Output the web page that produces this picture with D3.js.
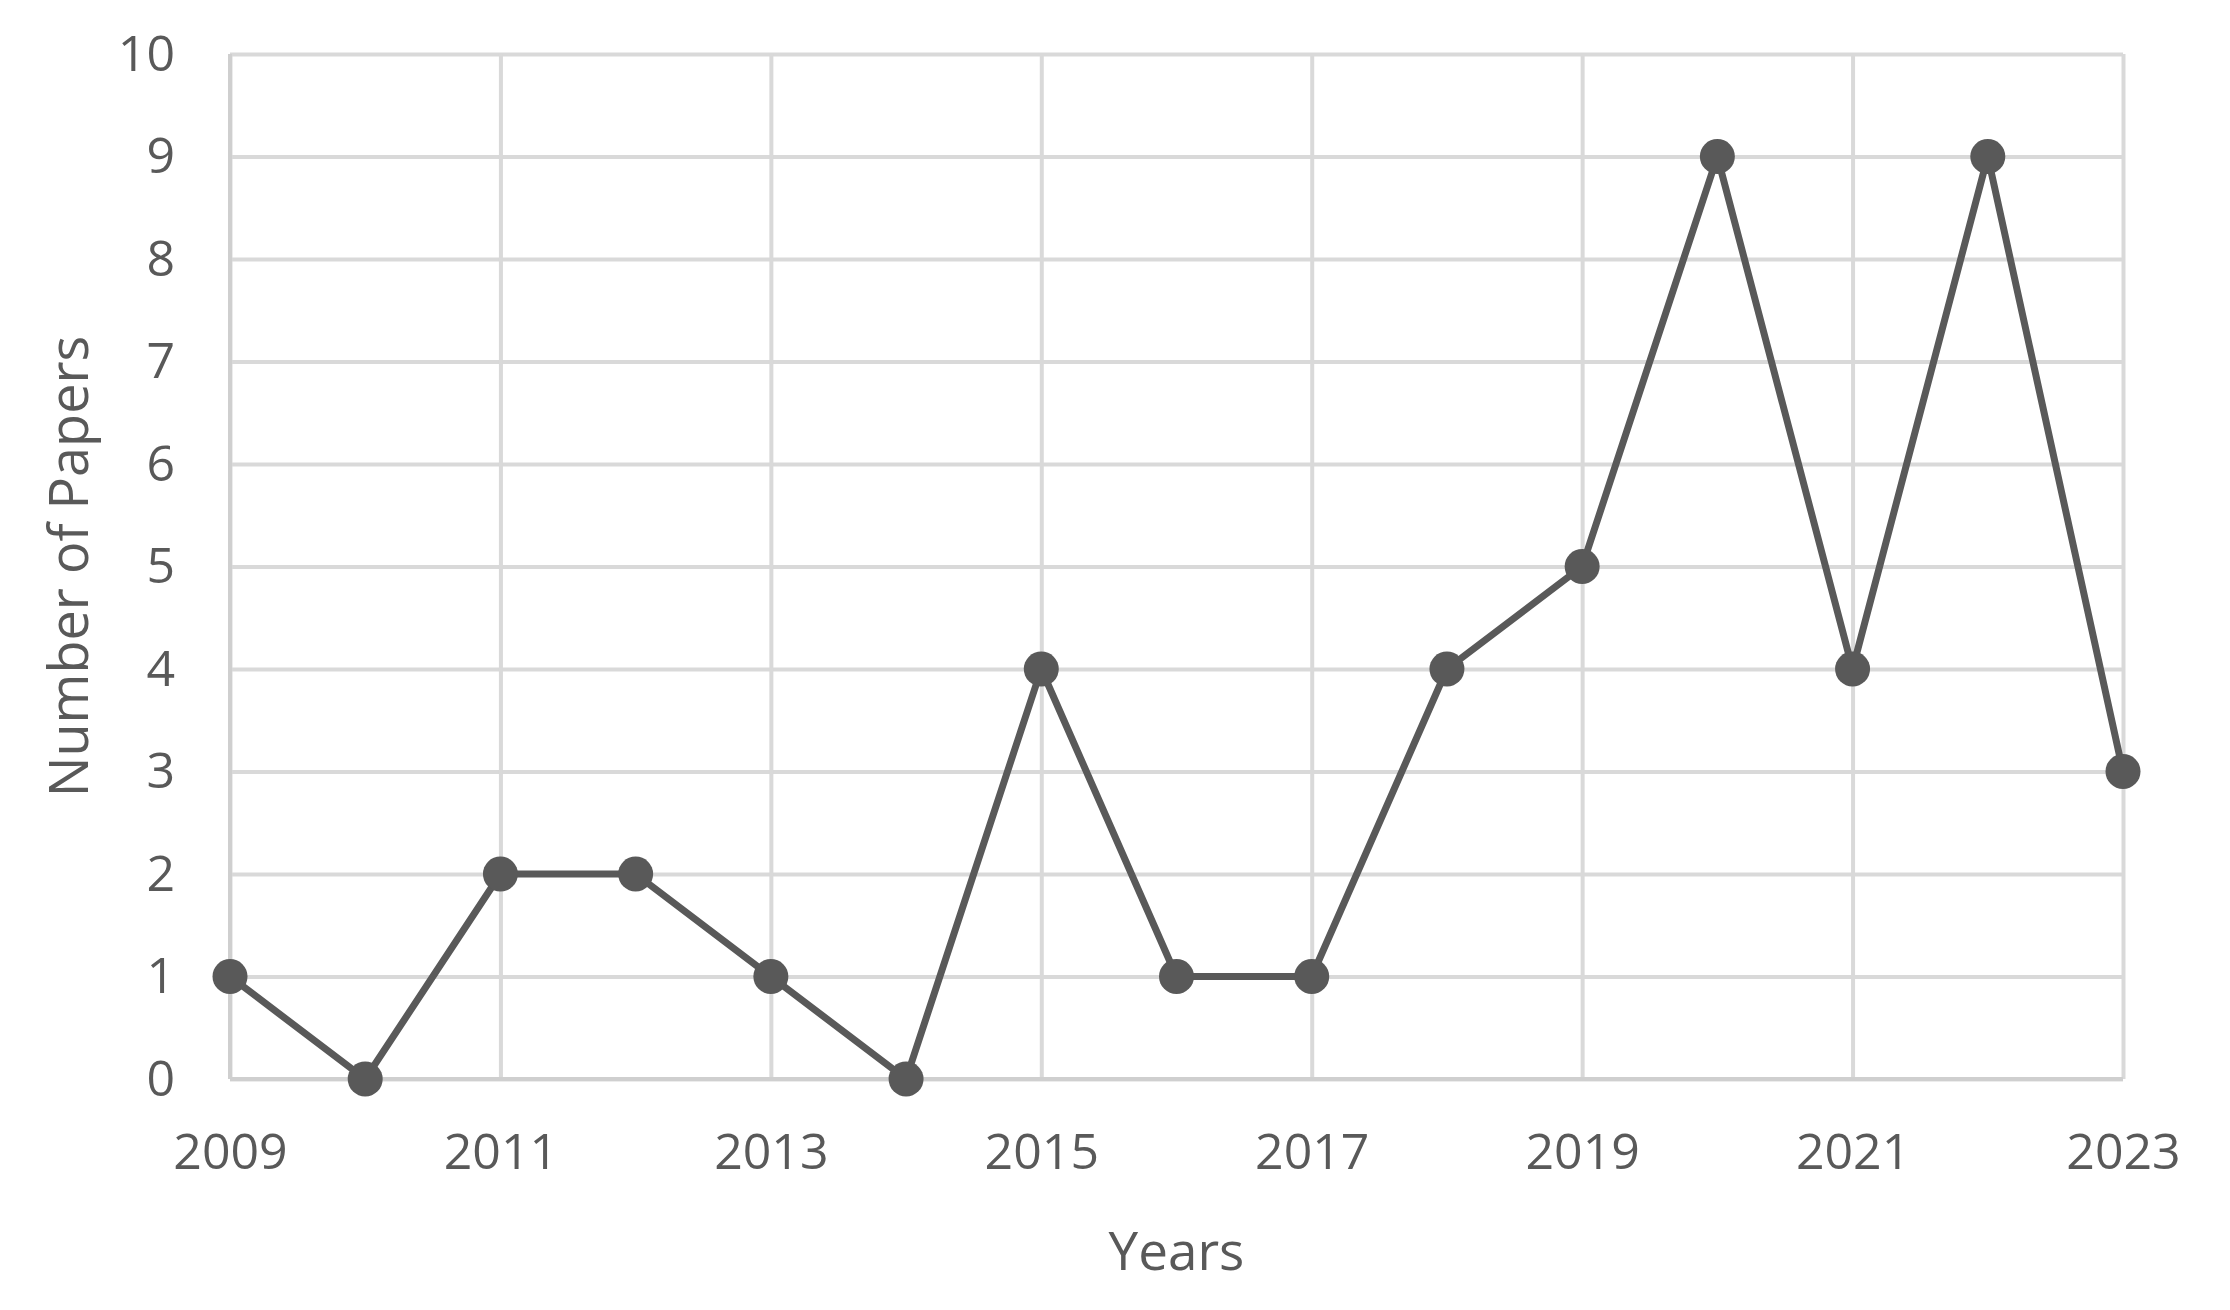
<!DOCTYPE html>
<html>
<head>
<meta charset="utf-8">
<script src="https://cdn.jsdelivr.net/npm/d3@7"></script>
<style>
  html, body { margin: 0; padding: 0; background: #fff; }
  text { font-family: "Open Sans", sans-serif; fill: #595959; }
</style>
</head>
<body>
<div id="chart"></div>
<script>
// data
const years = [2009, 2010, 2011, 2012, 2013, 2014, 2015, 2016, 2017, 2018, 2019, 2020, 2021, 2022, 2023];
const papers = [1, 0, 2, 2, 1, 0, 4, 1, 1, 4, 5, 9, 4, 9, 3];
const xTicks = [2009, 2011, 2013, 2015, 2017, 2019, 2021, 2023];
const yTicks = [0, 1, 2, 3, 4, 5, 6, 7, 8, 9, 10];

const W = 2230, H = 1310;
const margin = {top: 54, right: 107, bottom: 231, left: 230};
const width = W - margin.left - margin.right;
const height = H - margin.top - margin.bottom;

const svg = d3.select('#chart').append('svg')
    .attr('width', W)
    .attr('height', H);

const g = svg.append('g')
    .attr('transform', `translate(${margin.left}, ${margin.top})`);

const x = d3.scaleLinear().domain([2009, 2023]).range([0, width]);
const y = d3.scaleLinear().domain([0, 10]).range([height, 0]);

// horizontal grid
g.append('g')
    .call(d3.axisLeft(y).tickValues(yTicks).tickSize(-width).tickFormat(''))
    .call(a => a.select('.domain').remove())
    .selectAll('line').attr('stroke', '#d9d9d9').attr('stroke-width', 4);

// vertical grid
g.append('g')
    .attr('transform', `translate(0, ${height})`)
    .call(d3.axisBottom(x).tickValues(xTicks).tickSize(-height).tickFormat(''))
    .call(a => a.select('.domain').remove())
    .selectAll('line').attr('stroke', '#d9d9d9').attr('stroke-width', 4);

// axis lines
g.append('line').attr('x1', 0).attr('x2', 0).attr('y1', 0).attr('y2', height)
    .attr('stroke', '#cfcfcf').attr('stroke-width', 4);
g.append('line').attr('x1', 0).attr('x2', width).attr('y1', height).attr('y2', height)
    .attr('stroke', '#cfcfcf').attr('stroke-width', 4);

// y tick labels
g.append('g')
    .call(d3.axisLeft(y).tickValues(yTicks).tickSize(0).tickPadding(55))
    .call(a => a.select('.domain').remove())
    .selectAll('text')
    .style('font-size', '50px')
    .attr('fill', '#595959');

// x tick labels
g.append('g')
    .attr('transform', `translate(0, ${height})`)
    .call(d3.axisBottom(x).tickValues(xTicks).tickSize(0).tickPadding(54).tickFormat(d3.format('d')))
    .call(a => a.select('.domain').remove())
    .selectAll('text')
    .style('font-size', '50px')
    .attr('fill', '#595959');

// series line
const line = d3.line()
    .x((d, i) => x(years[i]))
    .y(d => y(d));

g.append('path')
    .datum(papers)
    .attr('fill', 'none')
    .attr('stroke', '#595959')
    .attr('stroke-width', 7)
    .attr('stroke-linejoin', 'round')
    .attr('d', line);

g.selectAll('circle.pt')
    .data(papers)
    .enter()
    .append('circle')
    .attr('class', 'pt')
    .attr('cx', (d, i) => x(years[i]))
    .attr('cy', d => y(d))
    .attr('r', 17.5)
    .attr('fill', '#595959');

// axis titles
svg.append('text')
    .attr('x', margin.left + width / 2)
    .attr('y', 1270)
    .attr('text-anchor', 'middle')
    .style('font-size', '53px')
    .text('Years');

svg.append('text')
    .attr('transform', `translate(88, ${margin.top + height / 2}) rotate(-90)`)
    .attr('text-anchor', 'middle')
    .style('font-size', '54px')
    .text('Number of Papers');
</script>
</body>
</html>
